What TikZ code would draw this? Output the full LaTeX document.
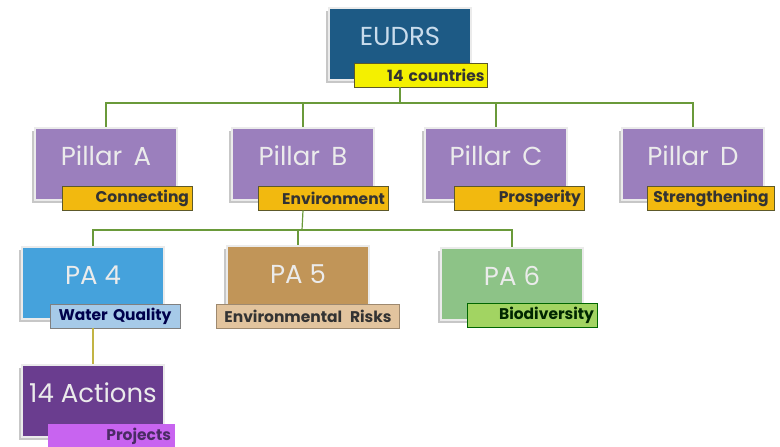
\documentclass[tikz,border=0pt]{standalone}
\usepackage{fontspec}
\setmainfont{Poppins}
\usepackage{tikz}
\usetikzlibrary{positioning,shadows,calc}

\definecolor{eudrsblue}{HTML}{1D5A85}
\definecolor{eudrstext}{HTML}{C9DCEC}
\definecolor{pillarpurple}{HTML}{9B7FBD}
\definecolor{tagorange}{HTML}{F2B90F}
\definecolor{tagyellow}{HTML}{F4F000}
\definecolor{pafour}{HTML}{45A2DC}
\definecolor{pafourtag}{HTML}{A6CAE8}
\definecolor{pafive}{HTML}{C19558}
\definecolor{pafivetag}{HTML}{E2C49E}
\definecolor{pasix}{HTML}{8DC387}
\definecolor{pasixtag}{HTML}{A2D462}
\definecolor{actpurple}{HTML}{6A3D8F}
\definecolor{acttag}{HTML}{C864F0}
\definecolor{linkgreen}{HTML}{6A9A3A}
\definecolor{linkolive}{HTML}{C2B444}

\tikzset{
  unitbox/.style={rectangle, minimum width=142pt, minimum height=72pt,
     draw=black!8, line width=2.5pt, text=white!92!black, font=\fontsize{26}{28}\selectfont,
     text depth=16pt,
     drop shadow={shadow xshift=-3pt, shadow yshift=-3pt, fill=black!22, opacity=1}},
  tagbox/.style={rectangle, minimum width=130pt, minimum height=24pt, inner sep=3pt,
     draw=black!45!olive, line width=0.8pt, font=\fontsize{15.5}{16}\selectfont\bfseries,
     text=black!80, align=right, text width=124pt},
  link/.style={draw=linkgreen, line width=1.2pt},
}

\begin{document}
\begin{tikzpicture}[x=1pt, y=-1pt]
\useasboundingbox (0,0) rectangle (780,447);

% top
\node[unitbox, fill=eudrsblue, text=eudrstext] (eudrs) at (400,44) {EUDRS};
\node[tagbox, fill=tagyellow, minimum width=133pt, text width=127pt] (ctag) at (421,75) {14 countries};

% pillars
\node[unitbox, fill=pillarpurple] (pilA) at (106,164) {Pillar\, A};
\node[unitbox, fill=pillarpurple] (pilB) at (303,164) {Pillar\, B};
\node[unitbox, fill=pillarpurple] (pilC) at (496,164) {Pillar\, C};
\node[unitbox, fill=pillarpurple] (pilD) at (693,164) {Pillar\, D};

\node[tagbox, fill=tagorange] (tagA) at (127,198) {Connecting};
\node[tagbox, fill=tagorange] (tagB) at (323,198) {Environment};
\node[tagbox, fill=tagorange] (tagC) at (519,198) {Prosperity};
\node[tagbox, fill=tagorange, minimum width=127pt, text width=121pt, align=center] (tagD) at (711,198) {Strengthening};

% priority areas
\node[unitbox, fill=pafour] (paFour) at (93,283) {PA 4};
\node[unitbox, fill=pafive] (paFive) at (298,282) {PA 5};
\node[unitbox, fill=pasix] (paSix) at (512,284) {PA 6};

\node[tagbox, fill=pafourtag, draw=black!50, text=blue!30!black, align=center] (tagFour) at (115,316) {Water Quality};
\node[tagbox, fill=pafivetag, draw=pafivetag!70!black, minimum width=183pt, text width=177pt, align=center] (tagFive) at (308,316) {Environmental\, Risks};
\node[tagbox, fill=pasixtag, draw=green!40!black, text=green!15!black] (tagSix) at (532,315) {Biodiversity};

% actions
\node[unitbox, fill=actpurple] (acts) at (93,401) {14 Actions};
\node[tagbox, fill=acttag, draw=acttag, minimum width=126pt, text width=120pt, minimum height=20pt, text=actpurple!70!black] (tagActs) at (111,436) {Projects};

% connectors
\coordinate (busTop) at (400,103);
\coordinate (busPil) at (302,230);
\draw[link] (eudrs.south |- ctag.south) -- (busTop);
\foreach \p in {pilA,pilB,pilC,pilD}
  \draw[link] (busTop) -| (\p.north);
\draw[link] (pilB.south |- tagB.south) -- (busPil);
\foreach \p in {paFour,paFive,paSix}
  \draw[link] (busPil) -| (\p.north);
\draw[draw=linkolive, line width=1.2pt] (paFour.south |- tagFour.south) -- (acts.north);

\end{tikzpicture}
\end{document}
